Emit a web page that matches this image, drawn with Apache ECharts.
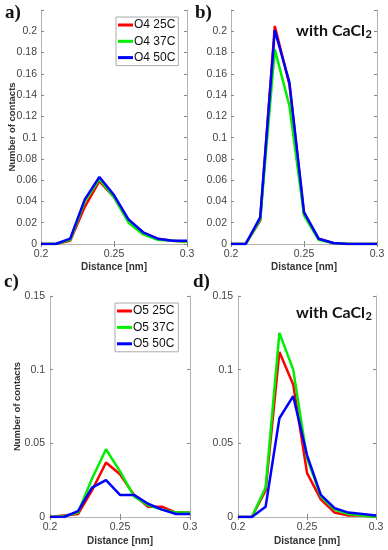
<!DOCTYPE html>
<html>
<head>
<meta charset="utf-8">
<script src="https://cdn.jsdelivr.net/npm/echarts@6/dist/echarts.min.js"></script>
<style>
html,body{margin:0;padding:0;background:#fff;}
#chart{width:388px;height:550px;}
</style>
</head>
<body>
<div id="chart"></div>
<script>
// Distance bins [nm]
const distance = [0.20, 0.21, 0.22, 0.23, 0.24, 0.25, 0.26, 0.27, 0.28, 0.29, 0.30];

// a) O4, no CaCl2
const a_O4_25C = [0, 0, 0.003, 0.035, 0.059, 0.044, 0.021, 0.010, 0.005, 0.003, 0.002];
const a_O4_37C = [0, 0, 0.004, 0.040, 0.061, 0.044, 0.020, 0.009, 0.004, 0.003, 0.002];
const a_O4_50C = [0, 0, 0.005, 0.042, 0.063, 0.046, 0.023, 0.011, 0.005, 0.003, 0.003];

// b) O4, with CaCl2
const b_O4_25C = [0, 0, 0.022, 0.205, 0.150, 0.028, 0.005, 0.001, 0, 0, 0];
const b_O4_37C = [0, 0, 0.023, 0.183, 0.130, 0.027, 0.004, 0.001, 0, 0, 0];
const b_O4_50C = [0, 0, 0.025, 0.201, 0.152, 0.030, 0.005, 0.001, 0, 0, 0];

// c) O5, no CaCl2
const c_O5_25C = [0, 0.001, 0.002, 0.018, 0.037, 0.029, 0.015, 0.007, 0.007, 0.003, 0.003];
const c_O5_37C = [0, 0.0005, 0.003, 0.026, 0.046, 0.031, 0.014, 0.008, 0.005, 0.003, 0.003];
const c_O5_50C = [0, 0, 0.004, 0.020, 0.025, 0.015, 0.015, 0.009, 0.005, 0.002, 0.002];

// d) O5, with CaCl2
const d_O5_25C = [0, 0, 0.018, 0.112, 0.090, 0.030, 0.012, 0.003, 0.001, 0.001, 0];
const d_O5_37C = [0, 0, 0.020, 0.125, 0.100, 0.040, 0.014, 0.005, 0.002, 0.001, 0];
const d_O5_50C = [0, 0, 0.007, 0.067, 0.082, 0.042, 0.015, 0.006, 0.003, 0.002, 0.001];

const namesTop = ['O4 25C', 'O4 37C', 'O4 50C'];
const namesBottom = ['O5 25C', 'O5 37C', 'O5 50C'];
const panelLabels = ['a)', 'b)', 'c)', 'd)'];
const xTicks = {min: 0.2, max: 0.3, interval: 0.05};
const yTopTicks = {min: 0, max: 0.22, interval: 0.02, labelMax: 0.2};
const yBottomTicks = {min: 0, max: 0.15, interval: 0.05, labelMax: 0.15};
const xName = 'Distance [nm]';
const yName = 'Number of contacts';
const annot = 'with CaCl';
const annotSub = '2';

const colors = ['#ff0000', '#00ee00', '#0000ff'];
const boxColor = '#b4b4b4';
const labelColor = '#444';
const sansFont = "Liberation Sans, Arial, sans-serif";
const annotFont = "Lato, Open Sans, sans-serif";

const grids = [
  {left: 41, top: 10, width: 146, height: 234},
  {left: 231, top: 10, width: 146, height: 234},
  {left: 50, top: 296, width: 140, height: 221},
  {left: 238, top: 296, width: 138, height: 221}
];

function fmt(v) { return String(Math.round(v * 1000) / 1000); }

const xAxis = [], yAxis = [];
grids.forEach((g, i) => {
  xAxis.push({
    type: 'value', gridIndex: i, position: 'bottom',
    min: xTicks.min, max: xTicks.max, interval: xTicks.interval,
    name: xName, nameLocation: 'middle', nameGap: i < 2 ? 18 : 19.5,
    nameMoveOverlap: false,
    nameTextStyle: {fontFamily: sansFont, fontWeight: 'bold', fontSize: 10, color: '#333'},
    axisLine: {show: true, lineStyle: {color: boxColor, width: 1}},
    axisTick: {show: true, inside: true, length: 3, lineStyle: {color: '#888'}},
    axisLabel: {show: true, margin: 5, fontFamily: sansFont, fontSize: 10.5, color: labelColor, formatter: fmt},
    splitLine: {show: false}
  });
  xAxis.push({
    type: 'value', gridIndex: i, position: 'top',
    min: xTicks.min, max: xTicks.max, interval: xTicks.interval,
    axisLine: {show: true, lineStyle: {color: boxColor, width: 1}},
    axisTick: {show: true, inside: true, length: 3, lineStyle: {color: '#888'}},
    axisLabel: {show: false}, splitLine: {show: false}
  });
  const yt = i < 2 ? yTopTicks : yBottomTicks;
  yAxis.push({
    type: 'value', gridIndex: i, position: 'left',
    min: yt.min, max: yt.max, interval: yt.interval,
    name: (i === 0 || i === 2) ? yName : '',
    nameLocation: 'middle', nameGap: i === 0 ? 24 : 28,
    nameMoveOverlap: false,
    nameTextStyle: {fontFamily: sansFont, fontWeight: 'bold', fontSize: 9.5, color: '#333'},
    axisLine: {show: true, lineStyle: {color: boxColor, width: 1}},
    axisTick: {show: true, inside: true, length: 3, lineStyle: {color: '#888'}},
    axisLabel: {show: true, margin: i < 2 ? 4 : 5, fontFamily: sansFont, fontSize: 10.5, color: labelColor,
      formatter: v => (v > yt.labelMax + 1e-9 ? '' : fmt(v))},
    splitLine: {show: false}
  });
  yAxis.push({
    type: 'value', gridIndex: i, position: 'right',
    min: yt.min, max: yt.max, interval: yt.interval,
    axisLine: {show: true, lineStyle: {color: boxColor, width: 1}},
    axisTick: {show: true, inside: true, length: 3, lineStyle: {color: '#888'}},
    axisLabel: {show: false}, splitLine: {show: false}
  });
});

const panelData = [
  [a_O4_25C, a_O4_37C, a_O4_50C],
  [b_O4_25C, b_O4_37C, b_O4_50C],
  [c_O5_25C, c_O5_37C, c_O5_50C],
  [d_O5_25C, d_O5_37C, d_O5_50C]
];

const series = [];
panelData.forEach((arrs, i) => {
  const names = i < 2 ? namesTop : namesBottom;
  arrs.forEach((arr, k) => {
    series.push({
      type: 'line', name: names[k],
      xAxisIndex: 2 * i, yAxisIndex: 2 * i,
      data: distance.map((x, j) => [x, arr[j]]),
      showSymbol: false, symbol: 'none',
      lineStyle: {color: colors[k], width: 2.5},
      itemStyle: {color: colors[k]},
      z: 2 + k
    });
  });
});

const legendCommon = {
  orient: 'vertical', icon: 'rect', itemWidth: 15, itemHeight: 3, itemGap: 2.3,
  borderColor: '#aaa', borderWidth: 1, backgroundColor: '#fff', borderRadius: 0,
  padding: [1, 3, 1, 2],
  textStyle: {fontFamily: sansFont, fontSize: 12, color: '#111', lineHeight: 14, padding: [0, 0, 0, -4]},
  selectedMode: false
};

const legend = [
  Object.assign({}, legendCommon, {left: 116, top: 17, data: namesTop}),
  Object.assign({}, legendCommon, {left: 115, top: 303, data: namesBottom, itemGap: 2.4, padding: [1, 4, 1, 2]})
];

const labelPos = [[5, 13], [195, 13], [4, 282], [193, 282]];
const graphic = [];
panelLabels.forEach((t, i) => {
  graphic.push({
    type: 'text', x: labelPos[i][0], y: labelPos[i][1],
    style: {text: t, font: 'bold 19px serif', fill: '#111',
      align: 'left', verticalAlign: 'middle'}
  });
});
[[31, 34.5], [313, 316.5]].forEach(p => {
  graphic.push({
    type: 'text', x: 365, y: p[0],
    style: {text: annot, fontFamily: annotFont, fontWeight: 'bold', fontSize: 16, fill: '#111',
      align: 'right', verticalAlign: 'middle'}
  });
  graphic.push({
    type: 'text', x: 365.5, y: p[1],
    style: {text: annotSub, fontFamily: annotFont, fontWeight: 'bold', fontSize: 11, fill: '#111',
      align: 'left', verticalAlign: 'middle'}
  });
});

const chart = echarts.init(document.getElementById('chart'), null, {renderer: 'canvas'});
chart.setOption({
  animation: false,
  backgroundColor: '#fff',
  grid: grids.map(g => Object.assign({containLabel: false}, g)),
  xAxis, yAxis, series, legend, graphic
});
</script>
</body>
</html>
